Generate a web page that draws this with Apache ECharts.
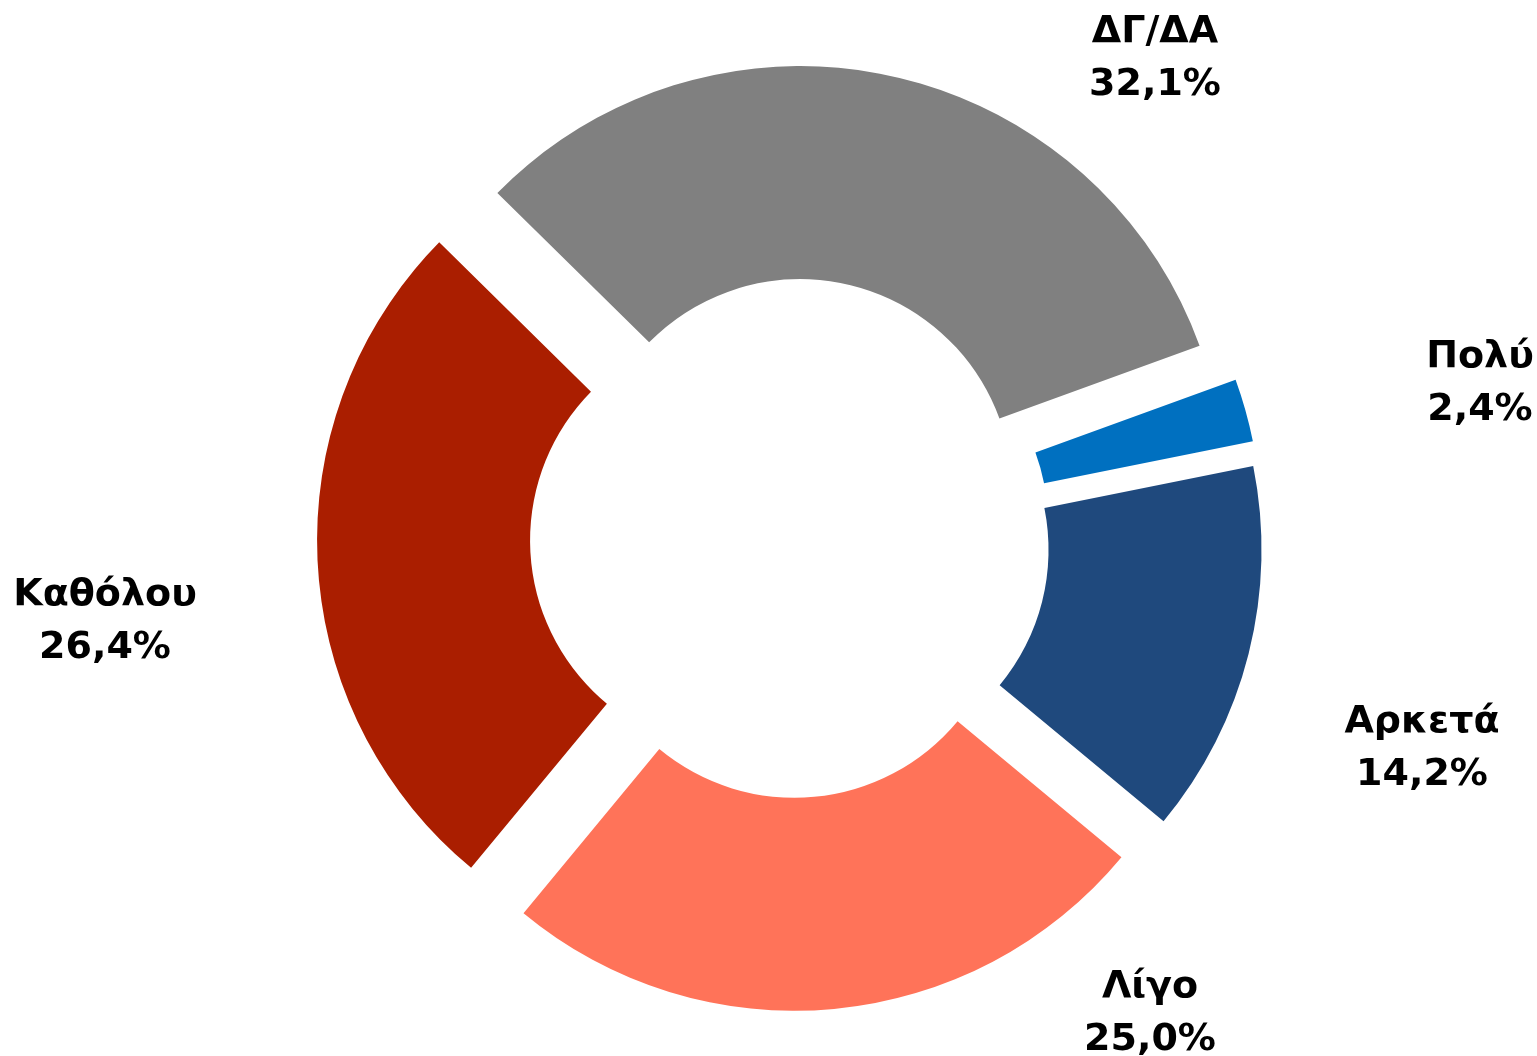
<!DOCTYPE html>
<html>
<head>
<meta charset="utf-8">
<script src="https://cdn.jsdelivr.net/npm/echarts@6/dist/echarts.min.js"></script>
<style>
    html, body { margin: 0; padding: 0; background: #fff; }
    #chart { width: 1537px; height: 1056px; }
</style>
</head>
<body>
<div id="chart"></div>
<script>
    // κατηγορίες και τιμές (%)
    const categories = ['Πολύ', 'Αρκετά', 'Λίγο', 'Καθόλου', 'ΔΓ/ΔΑ'];
    const values = [2.4, 14.2, 25.0, 26.4, 32.1];
    const colors = ['#0070C0', '#1F497D', '#FF7359', '#AA1E00', '#808080'];
    // θέσεις ετικετών (κέντρο κειμένου)
    const labelPos = [[1480, 384], [1422, 749], [1150, 1014], [105, 622], [1155, 59]];

    let myChart = echarts.init(document.getElementById('chart'));
    let pieBase = {
        type: 'pie',
        center: [790, 538],
        radius: [212, 425],
        startAngle: 20,
        clockwise: true,
        emphasis: { disabled: true }
    };
    let option = {
        backgroundColor: '#fff',
        animation: false,
        series: [
            // τα κομμάτια (αποσπασμένα)
            Object.assign({}, pieBase, {
                selectedMode: 'multiple',
                selectedOffset: 48,
                label: { show: false },
                labelLine: { show: false },
                data: categories.map(function (name, i) {
                    return {
                        name: name,
                        value: values[i],
                        selected: true,
                        itemStyle: { color: colors[i] },
                        select: { itemStyle: { color: colors[i] } }
                    };
                })
            }),
            // μόνο ετικέτες
            Object.assign({}, pieBase, {
                silent: true,
                itemStyle: { color: 'rgba(0,0,0,0)' },
                label: {
                    show: true,
                    position: 'outside',
                    formatter: function (p) {
                        return p.name + '\n' + p.value.toFixed(1).replace('.', ',') + '%';
                    },
                    fontFamily: 'DejaVu Sans',
                    fontWeight: 'bold',
                    fontSize: 38,
                    lineHeight: 53,
                    color: '#000',
                    align: 'center'
                },
                labelLine: { show: false },
                labelLayout: function (params) {
                    let pos = labelPos[params.dataIndex];
                    return {
                        x: pos[0],
                        y: pos[1],
                        align: 'center',
                        verticalAlign: 'middle'
                    };
                },
                data: categories.map(function (name, i) {
                    return { name: name, value: values[i] };
                })
            })
        ]
    };
    myChart.setOption(option, true);
</script>
</body>
</html>
